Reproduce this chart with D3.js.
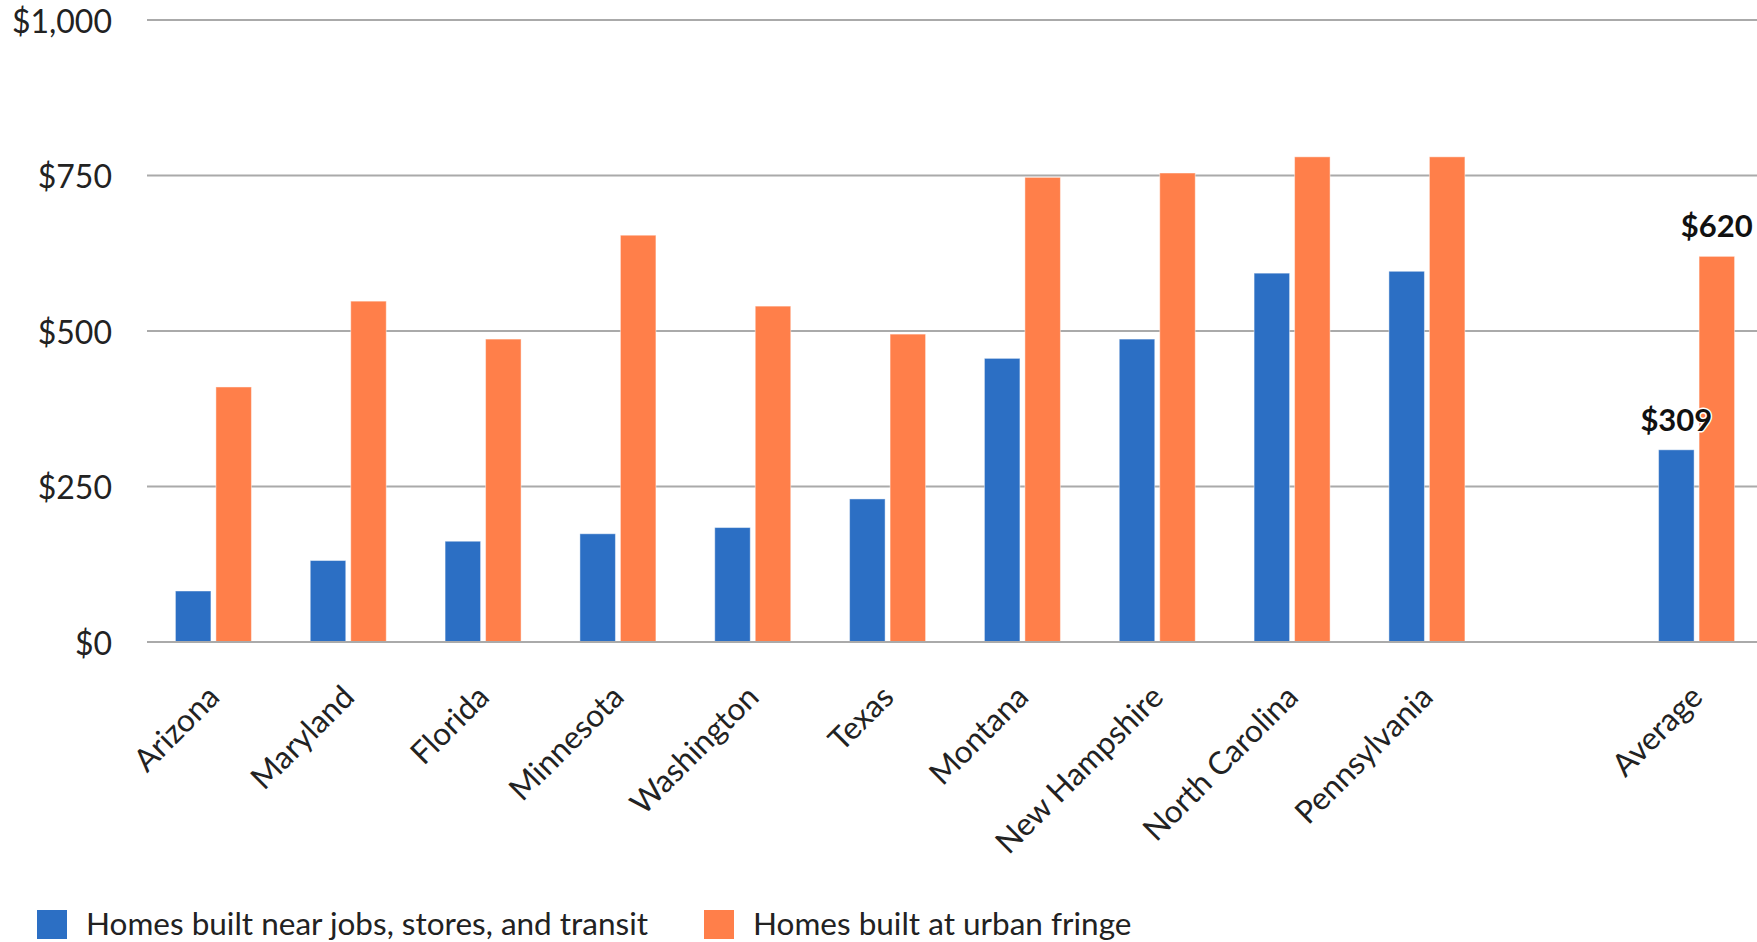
<!DOCTYPE html>
<html>
<head>
<meta charset="utf-8">
<script src="https://cdn.jsdelivr.net/npm/d3@7/dist/d3.min.js"></script>
<style>
  html, body { margin: 0; padding: 0; background: #fff; }
  svg { display: block; font-family: Lato, "Noto Sans", sans-serif; }
</style>
</head>
<body>
<svg id="chart" width="1757" height="942"></svg>
<script>
// ---- data ----
const categories = ["Arizona", "Maryland", "Florida", "Minnesota", "Washington", "Texas",
  "Montana", "New Hampshire", "North Carolina", "Pennsylvania", "", "Average"];
const seriesNames = ["Homes built near jobs, stores, and transit", "Homes built at urban fringe"];
const nearValues   = [82, 131, 162, 174, 184, 230, 456, 487, 593, 596, null, 309];
const fringeValues = [410, 548, 487, 654, 540, 495, 747, 754, 780, 780, null, 620];
const annotatedCategory = "Average";
const yTickValues = [0, 250, 500, 750, 1000];

// ---- layout ----
const W = 1757, H = 942;
const colors = ["#2c6fc4", "#ff7f4a"];
const svg = d3.select("#chart");

const x0 = d3.scaleBand().domain(categories).range([146, 1764]).padding(0);
const step = x0.step();
const x1 = d3.scaleBand().domain([0, 1]).range([step / 2 - 38, step / 2 + 38]).paddingInner(0.123);
const y = d3.scaleLinear().domain([0, 1000]).range([642, 20]);

const fmt = v => "$" + d3.format(",")(v);

// gridlines + y labels
const yAxis = d3.axisLeft(y).tickValues(yTickValues).tickFormat(fmt).tickSize(0).tickPadding(0);
const gy = svg.append("g").attr("transform", "translate(112,2)").call(yAxis);
gy.select(".domain").remove();
gy.selectAll("text").attr("font-size", 32).attr("fill", "#222").attr("font-family", "Lato");

svg.append("g").selectAll("line").data(yTickValues).join("line")
  .attr("x1", 147).attr("x2", W)
  .attr("y1", d => y(d)).attr("y2", d => y(d))
  .attr("stroke", "#aaaaaa").attr("stroke-width", 2);

// bars
const rows = categories.map((c, i) => ({ c, vals: [nearValues[i], fringeValues[i]] }))
  .filter(r => r.c !== "");
const groups = svg.append("g").selectAll("g").data(rows).join("g")
  .attr("transform", d => `translate(${x0(d.c)},0)`);
groups.selectAll("rect").data(d => d.vals.map((v, k) => ({ v, k }))).join("rect")
  .attr("x", d => x1(d.k))
  .attr("width", x1.bandwidth())
  .attr("y", d => y(d.v))
  .attr("height", d => y(0) - y(d.v))
  .attr("fill", d => colors[d.k])
  .attr("stroke", "rgba(255,255,255,0.45)").attr("stroke-width", 1);

// redraw zero line on top
svg.append("line").attr("x1", 147).attr("x2", W).attr("y1", y(0)).attr("y2", y(0))
  .attr("stroke", "#aaaaaa").attr("stroke-width", 2);

// value labels for average
const avg = rows.find(r => r.c === annotatedCategory);
svg.append("g").selectAll("text").data(avg.vals.map((v, k) => ({ v, k }))).join("text")
  .attr("x", d => x0(avg.c) + x1(d.k) + x1.bandwidth() / 2)
  .attr("y", d => y(d.v) - 19)
  .attr("text-anchor", "middle")
  .attr("font-size", 31).attr("font-weight", "bold").attr("fill", "#111")
  .attr("stroke", "#fff").attr("stroke-width", 3).attr("paint-order", "stroke")
  .text(d => fmt(d.v));

// x labels
const xAxis = d3.axisBottom(x0).tickSize(0).tickPadding(0);
const gx = svg.append("g").attr("transform", "translate(0,642)").call(xAxis);
gx.select(".domain").remove();
gx.selectAll("text")
  .attr("font-size", 31.5).attr("fill", "#222").attr("font-family", "Lato")
  .attr("text-anchor", "end")
  .attr("dy", null).attr("y", null)
  .attr("transform", "translate(8,57) rotate(-45)");

// legend
const legendX = [37, 704];
const lg = svg.append("g").selectAll("g").data(seriesNames).join("g")
  .attr("transform", (d, i) => `translate(${legendX[i]},910)`);
lg.append("rect").attr("width", 30).attr("height", 29).attr("fill", (d, i) => colors[i]);
lg.append("text").attr("x", 49).attr("y", 25)
  .attr("font-size", 31.5).attr("fill", "#222").text(d => d);
</script>
</body>
</html>
